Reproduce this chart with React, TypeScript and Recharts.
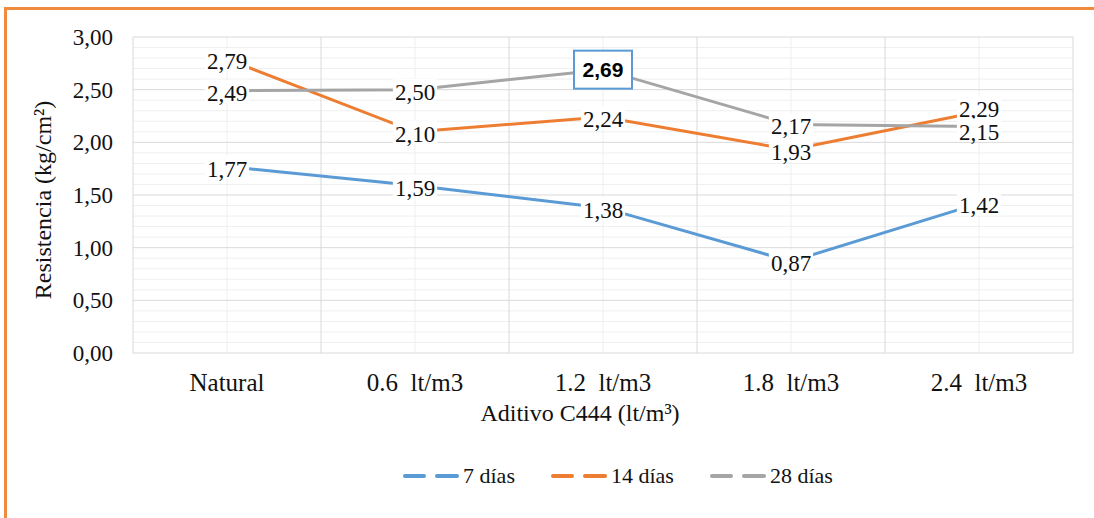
import React from 'react';
import {
  LineChart,
  Line,
  XAxis,
  YAxis,
  CartesianGrid,
  LabelList,
  Label,
} from 'recharts';

// Dosis de aditivo (categorías del eje X)
const categories = [
  'Natural',
  '0.6\u00a0\u00a0lt/m3',
  '1.2\u00a0\u00a0lt/m3',
  '1.8\u00a0\u00a0lt/m3',
  '2.4\u00a0\u00a0lt/m3',
];

// Resistencia (kg/cm²) por edad de curado
const dias7 = [1.77, 1.59, 1.38, 0.87, 1.42];
const dias14 = [2.79, 2.1, 2.24, 1.93, 2.29];
const dias28 = [2.49, 2.5, 2.69, 2.17, 2.15];

const series = [
  { key: 'd7', name: '7 días', color: '#5B9BD5', values: dias7 },
  { key: 'd14', name: '14 días', color: '#ED7D31', values: dias14 },
  { key: 'd28', name: '28 días', color: '#A5A5A5', values: dias28 },
];

// Ejes y rejilla
const yTicks = [0, 0.5, 1, 1.5, 2, 2.5, 3];
const yMinor = [
  0.1, 0.2, 0.3, 0.4, 0.6, 0.7, 0.8, 0.9, 1.1, 1.2, 1.3, 1.4,
  1.6, 1.7, 1.8, 1.9, 2.1, 2.2, 2.3, 2.4, 2.6, 2.7, 2.8, 2.9,
];
const xCenters = [0.5, 1.5, 2.5, 3.5, 4.5];
const xBounds = [0, 1, 2, 3, 4, 5];

// valor destacado (serie 28 días, 1.2 lt/m3)
const highlight = { key: 'd28', index: 2 };

// desplazamiento vertical de etiquetas que se tocan (en px)
const labelNudge: Record<string, number[]> = {
  d7: [0, 0, 0, 0, 0],
  d14: [0, 0, 0, 0, -5],
  d28: [0, 0, 0, 0, 3],
};

const SERIF = '"Liberation Serif", "Times New Roman", serif';
const SANS = '"Liberation Sans", Arial, sans-serif';
const LABEL_SIZE = 23;

const data = categories.map((name, i) => {
  const row: Record<string, string | number> = { name, pos: xCenters[i] };
  series.forEach((s) => {
    row[s.key] = s.values[i];
  });
  return row;
});

const fmt = (v: number) => v.toFixed(2).replace('.', ',');

const textWidth = (s: string) =>
  s.split('').reduce((w, c) => w + (c === ',' ? 0.25 : 0.5), 0) * LABEL_SIZE;

const YTick = ({ x, y, payload }: any) => (
  <text x={x} y={y} dy={8} textAnchor="end" fontSize={23} fontFamily={SERIF} fill="#111">
    {fmt(payload.value)}
  </text>
);

const XTick = ({ x, y, payload }: any) => (
  <text x={x} y={y} dy={38} textAnchor="middle" fontSize={25} fontFamily={SERIF} fill="#111">
    {categories[xCenters.indexOf(payload.value)]}
  </text>
);

const makeLabel = (key: string) => (props: any) => {
  const { x, value, index } = props;
  const y = props.y + (labelNudge[key]?.[index] ?? 0);
  const txt = fmt(Number(value));
  if (key === highlight.key && index === highlight.index) {
    return (
      <g>
        <rect x={x - 29} y={y - 19} width={58} height={38} fill="#fff" stroke="#5B9BD5" strokeWidth={2} />
        <text x={x} y={y} dy={7} textAnchor="middle" fontSize={21} fontWeight="bold" fontFamily={SANS} fill="#000">
          {txt}
        </text>
      </g>
    );
  }
  const w = textWidth(txt) + 4;
  return (
    <g>
      <rect x={x - w / 2} y={y - 11} width={w} height={23} fill="#fff" />
      <text x={x} y={y} dy={10} textAnchor="middle" fontSize={LABEL_SIZE} fontFamily={SERIF} fill="#111">
        {txt}
      </text>
    </g>
  );
};

const YTitle = ({ viewBox }: any) => {
  const cx = viewBox.x + 51;
  const cy = viewBox.y + viewBox.height / 2 + 5;
  return (
    <text
      x={cx}
      y={cy}
      transform={`rotate(-90, ${cx}, ${cy})`}
      textAnchor="middle"
      fontSize={24}
      fontFamily={SERIF}
      fill="#111"
    >
      Resistencia (kg/cm²)
    </text>
  );
};

const XTitle = ({ viewBox }: any) => (
  <text
    x={viewBox.x + viewBox.width / 2 - 23}
    y={viewBox.y + 68}
    textAnchor="middle"
    fontSize={24}
    fontFamily={SERIF}
    fill="#111"
  >
    Aditivo C444 (lt/m³)
  </text>
);

function LegendRow() {
  return (
    <div
      style={{
        position: 'absolute',
        left: 403,
        top: 462,
        display: 'flex',
        alignItems: 'center',
        fontFamily: SERIF,
        fontSize: 22,
        color: '#111',
        gap: 36,
      }}
    >
      {series.map((s) => (
        <div key={s.key} style={{ display: 'flex', alignItems: 'center', gap: 4 }}>
          <svg width={56} height={28}>
            <line x1={2} y1={14} x2={21} y2={14} stroke={s.color} strokeWidth={4} strokeLinecap="round" />
            <line x1={34} y1={14} x2={54} y2={14} stroke={s.color} strokeWidth={4} strokeLinecap="round" />
          </svg>
          <span>{s.name}</span>
        </div>
      ))}
    </div>
  );
}

export default function App() {
  return (
    <div
      style={{
        position: 'absolute',
        left: 0,
        top: 0,
        width: 1094,
        height: 518,
        overflow: 'hidden',
        background: '#fff',
      }}
    >
      {/* marco naranja */}
      <div
        style={{
          position: 'absolute',
          left: 4,
          top: 7,
          width: 1200,
          height: 600,
          borderLeft: '3px solid #F08A3C',
          borderTop: '3px solid #F08A3C',
        }}
      />
      <div style={{ position: 'absolute', left: 0, top: 0 }}>
        <LineChart
          width={1094}
          height={518}
          data={data}
          margin={{ top: 37, right: 21, left: 0, bottom: 105 }}
        >
          <CartesianGrid
            stroke="#EFEFEF"
            horizontalValues={yMinor}
            verticalValues={xCenters}
          />
          <CartesianGrid
            stroke="#D9D9D9"
            horizontalValues={yTicks}
            verticalValues={xBounds}
          />
          <XAxis
            dataKey="pos"
            type="number"
            domain={[0, 5]}
            ticks={xCenters}
            interval={0}
            axisLine={false}
            tickLine={false}
            tickSize={0}
            tickMargin={0}
            height={60}
            tick={<XTick />}
          >
            <Label content={<XTitle />} />
          </XAxis>
          <YAxis
            domain={[0, 3]}
            ticks={yTicks}
            interval={0}
            axisLine={false}
            tickLine={false}
            tickSize={0}
            tickMargin={20}
            width={133}
            tick={<YTick />}
          >
            <Label content={<YTitle />} />
          </YAxis>
          {series.map((s) => (
            <Line
              key={s.key}
              type="linear"
              dataKey={s.key}
              name={s.name}
              stroke={s.color}
              strokeWidth={3}
              dot={false}
              activeDot={false}
              isAnimationActive={false}
            >
              <LabelList dataKey={s.key} content={makeLabel(s.key)} />
            </Line>
          ))}
        </LineChart>
      </div>
      <LegendRow />
    </div>
  );
}
